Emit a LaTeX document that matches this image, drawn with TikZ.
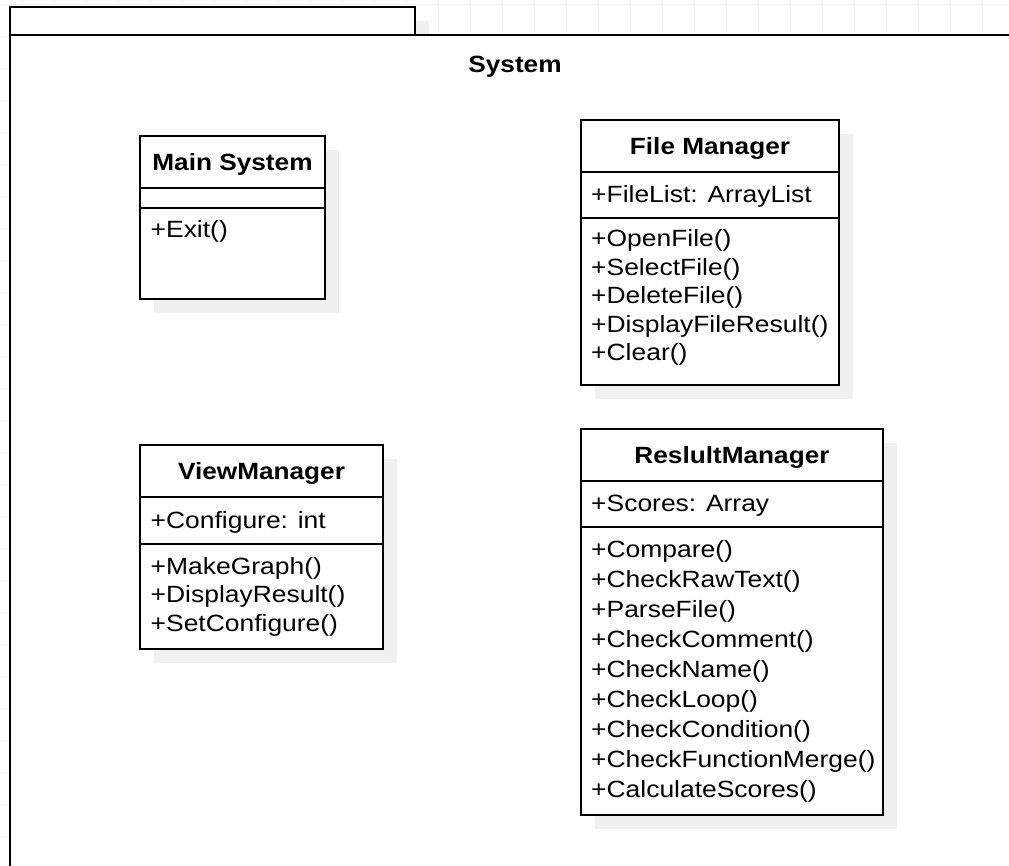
\documentclass[tikz,border=0pt]{standalone}
\usepackage{fontspec}
\usepackage{graphicx}
\setmainfont{Liberation Sans}
\usetikzlibrary{shadows}
\newcommand{\cfont}{\fontsize{23.5}{28}\selectfont}
\newcommand{\itemtxt}[1]{\scalebox{1.125}[1]{#1}}
\newcommand{\titletxt}[1]{\scalebox{1.115}[1]{#1}}
\tikzset{
  umlbox/.style={draw=black, line width=2pt, fill=white, inner sep=0pt, outer sep=0pt, anchor=north west},
  shad/.style={drop shadow={shadow xshift=14pt, shadow yshift=-14pt, fill=black!6, opacity=1}},
  divider/.style={draw=black, line width=1.6pt},
  gridline/.style={draw=black!5, line width=0.7pt},
  ctitle/.style={font=\cfont\bfseries, inner sep=0pt, anchor=base},
  citem/.style={font=\cfont, inner sep=0pt, anchor=base west},
}
\begin{document}
\begin{tikzpicture}[x=1pt,y=-1pt]
\useasboundingbox (0,0) rectangle (1009,866);
\clip (0,0) rectangle (1009,866);
\fill[white] (0,0) rectangle (1009,866);
% background grid
\foreach \gx in {22,54,...,1014} { \draw[gridline] (\gx,0) -- (\gx,866); }
\foreach \gy in {4,36,...,870} { \draw[gridline] (0,\gy) -- (1009,\gy); }
% package tab and frame
\node[umlbox, shad, minimum width=405pt, minimum height=28pt] (tab) at (10,7) {};
\node[umlbox, minimum width=1100pt, minimum height=900pt] (frame) at (10,35) {};
\node[ctitle] (systitle) at (515,73) {\titletxt{System}};

% Main System
\node[umlbox, shad, minimum width=185pt, minimum height=163pt] (ms) at (140,136) {};
\draw[divider] (ms.west |- 0,188) -- (ms.east |- 0,188);
\draw[divider] (ms.west |- 0,208) -- (ms.east |- 0,208);
\node[ctitle] (ms-t) at (232.5,170.5) {\titletxt{Main System}};
\node[citem] (ms-m1) at (150.5,238) {\itemtxt{+Exit()}};

% File Manager
\node[umlbox, shad, minimum width=258pt, minimum height=265pt] (fm) at (581,120) {};
\draw[divider] (fm.west |- 0,172) -- (fm.east |- 0,172);
\draw[divider] (fm.west |- 0,218) -- (fm.east |- 0,218);
\node[ctitle] (fm-t) at (710,154.5) {\titletxt{File Manager}};
\node[citem] (fm-a1) at (591,202.5) {\itemtxt{+FileList: ArrayList}};
\node[citem] (fm-m1) at (591,247) {\itemtxt{+OpenFile()}};
\node[citem] (fm-m2) at (591,275.5) {\itemtxt{+SelectFile()}};
\node[citem] (fm-m3) at (591,304) {\itemtxt{+DeleteFile()}};
\node[citem] (fm-m4) at (591,332.5) {\itemtxt{+DisplayFileResult()}};
\node[citem] (fm-m5) at (591,361) {\itemtxt{+Clear()}};

% ViewManager
\node[umlbox, shad, minimum width=243pt, minimum height=204pt] (vm) at (140,445) {};
\draw[divider] (vm.west |- 0,497) -- (vm.east |- 0,497);
\draw[divider] (vm.west |- 0,544) -- (vm.east |- 0,544);
\node[ctitle] (vm-t) at (261.5,479.5) {\titletxt{ViewManager}};
\node[citem] (vm-a1) at (150.5,528) {\itemtxt{+Configure: int}};
\node[citem] (vm-m1) at (150.5,574) {\itemtxt{+MakeGraph()}};
\node[citem] (vm-m2) at (150.5,602.5) {\itemtxt{+DisplayResult()}};
\node[citem] (vm-m3) at (150.5,631) {\itemtxt{+SetConfigure()}};

% ReslultManager
\node[umlbox, shad, minimum width=302pt, minimum height=386pt] (rm) at (581,429) {};
\draw[divider] (rm.west |- 0,481) -- (rm.east |- 0,481);
\draw[divider] (rm.west |- 0,527) -- (rm.east |- 0,527);
\node[ctitle] (rm-t) at (732,463.5) {\titletxt{ReslultManager}};
\node[citem] (rm-a1) at (591,511.5) {\itemtxt{+Scores: Array}};
\node[citem] (rm-m1) at (591,557.5) {\itemtxt{+Compare()}};
\node[citem] (rm-m2) at (591,587.5) {\itemtxt{+CheckRawText()}};
\node[citem] (rm-m3) at (591,617.5) {\itemtxt{+ParseFile()}};
\node[citem] (rm-m4) at (591,647.5) {\itemtxt{+CheckComment()}};
\node[citem] (rm-m5) at (591,677.5) {\itemtxt{+CheckName()}};
\node[citem] (rm-m6) at (591,707.5) {\itemtxt{+CheckLoop()}};
\node[citem] (rm-m7) at (591,737.5) {\itemtxt{+CheckCondition()}};
\node[citem] (rm-m8) at (591,767.5) {\itemtxt{+CheckFunctionMerge()}};
\node[citem] (rm-m9) at (591,797.5) {\itemtxt{+CalculateScores()}};
\end{tikzpicture}
\end{document}
